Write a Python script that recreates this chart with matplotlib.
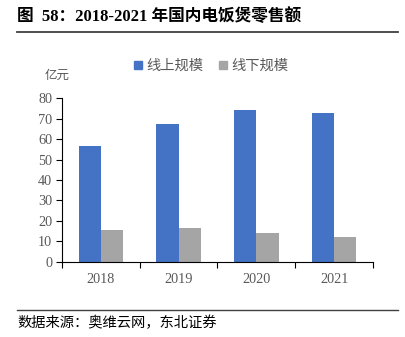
import matplotlib
matplotlib.use("Agg")
import matplotlib.pyplot as plt
import numpy as np
from matplotlib.lines import Line2D
from matplotlib.patches import Patch

plt.rcParams['font.family'] = ['Liberation Serif', 'Noto Sans CJK SC', 'DejaVu Sans']

years = ['2018', '2019', '2020', '2021']
online = [56.8, 67.2, 74.2, 72.6]
offline = [15.5, 16.6, 13.9, 12.1]
yticks = [0, 10, 20, 30, 40, 50, 60, 70, 80]

blue = '#4472C4'
gray = '#A5A5A5'
txt = '#595959'

fig = plt.figure(figsize=(4.06, 3.37), dpi=100)
ax = fig.add_axes([62/406, 1-261.7/337, (373-62)/406, (261.7-98.3)/337])

x = np.arange(len(years))
w = 0.285
ax.bar(x - w/2, online, w, color=blue, label='线上规模')
ax.bar(x + w/2, offline, w, color=gray, label='线下规模')

ax.set_xlim(-0.5, len(years) - 0.5)
ax.set_ylim(0, 80)
ax.set_yticks(yticks)
ax.set_yticklabels([str(v) for v in yticks], fontsize=10.3, color=txt)
ax.set_xticks(np.arange(len(years) + 1) - 0.5)
ax.set_xticklabels([])
ax.set_xticks(x, minor=True)
ax.set_xticklabels(years, minor=True, fontsize=10.3, color=txt)
ax.tick_params(axis='x', which='minor', length=0, pad=8)
ax.tick_params(axis='x', which='major', length=4, direction='out', color='black', width=0.8)
ax.tick_params(axis='y', length=4, direction='out', color='black', width=0.8, pad=3)
for s in ['top', 'right']:
    ax.spines[s].set_visible(False)
ax.spines['left'].set_color('black')
ax.spines['bottom'].set_color('black')
ax.spines['left'].set_linewidth(0.8)
ax.spines['bottom'].set_linewidth(0.8)

fig.text(45/406, 1-75/337, '亿元', fontsize=9, color=txt, va='center', ha='left',
         family=['Noto Sans CJK SC'])

handles = [Patch(color=blue), Patch(color=gray)]
leg = fig.legend(handles, ['线上规模', '线下规模'], loc='center left',
                 bbox_to_anchor=(134/406, 1-66/337), ncol=2, frameon=False,
                 prop={'family': 'Noto Sans CJK SC', 'size': 10.3},
                 handlelength=0.55, handleheight=0.55, handletextpad=0.3, columnspacing=1.1,
                 borderaxespad=0, borderpad=0)
for t in leg.get_texts():
    t.set_color(txt)

fig.text(17/406, 1-17/337, '图  58：2018-2021 年国内电饭煲零售额', fontsize=12, fontweight='bold',
         va='center', ha='left', color='black',
         family=['Liberation Serif', 'Noto Sans CJK SC'])
fig.add_artist(Line2D([17/406, 398/406], [1-32/337, 1-32/337], color='#404040', lw=1.3))
fig.add_artist(Line2D([17/406, 398/406], [1-310/337, 1-310/337], color='#404040', lw=1.0))
fig.text(17/406, 1-323/337, '数据来源：奥维云网，东北证券', fontsize=10.3, va='center', ha='left',
         color='black', family=['Noto Sans CJK SC'])

fig.savefig('out.png', dpi=100)
